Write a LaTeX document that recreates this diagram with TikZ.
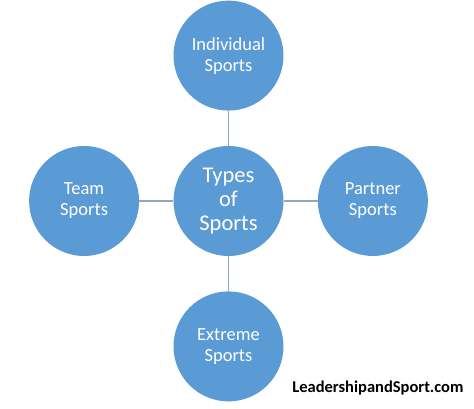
\documentclass[tikz,border=0pt]{standalone}
\usepackage{fontspec}
\setmainfont{Carlito}
\usetikzlibrary{positioning}
\definecolor{sportblue}{RGB}{91,155,213}
\definecolor{linkgray}{RGB}{143,166,196}

\begin{document}
\begin{tikzpicture}[
        x=1pt, y=1pt,
        node distance=35pt and 34pt,
        topic/.style={circle, fill=sportblue, draw=none, minimum size=110pt, inner sep=0pt, align=center, text=white, font=\fontsize{18.5}{21}\selectfont},
        hub/.style={topic, font=\fontsize{22.5}{24}\selectfont},
        link/.style={draw=linkgray, line width=1.3pt}
    ]
        \useasboundingbox (0,0) rectangle (474,409);
        \node[hub] (types) at (228.5,208) {Types\\of\\Sports};
        \node[topic, above=of types] (individual) {Individual\\Sports};
        \node[topic, left=of types] (team) {Team\\Sports};
        \node[topic, right=of types] (partner) {Partner\\Sports};
        \node[topic, below=of types] (extreme) {Extreme\\Sports};

        \draw[link] (types) -- (individual);
        \draw[link] (types) -- (team);
        \draw[link] (types) -- (partner);
        \draw[link] (types) -- (extreme);

        \node[anchor=base east, font=\bfseries\fontsize{16.5}{18}\selectfont] (site) at (467,16) {LeadershipandSport.com};
    \end{tikzpicture}
\end{document}
